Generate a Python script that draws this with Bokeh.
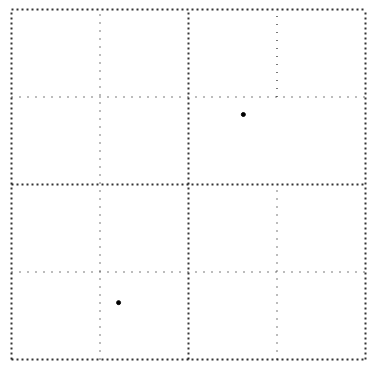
from bokeh.plotting import figure
from bokeh.models import Range1d
from bokeh.embed import file_html
from bokeh.resources import INLINE

# Major grid segments (outer box and centre cross), in grid units
major_x0 = [0, 0, 0, 4, 2, 0]
major_y0 = [0, 4, 0, 0, 0, 2]
major_x1 = [4, 4, 0, 4, 2, 4]
major_y1 = [0, 4, 4, 4, 4, 2]

# Minor subdivision segments
minor_x0 = [1, 0, 0, 3, 3]
minor_y0 = [0, 3, 1, 0, 3]
minor_x1 = [1, 4, 4, 3, 3]
minor_y1 = [4, 3, 1, 2, 4]

# Isolated specks
speck_x = [2.62, 1.21]
speck_y = [2.80, 0.65]

p = figure(width=367, height=365, output_backend="svg", toolbar_location=None,
           x_range=Range1d(-0.1243, 4.0226), y_range=Range1d(-0.0686, 4.103),
           min_border=0, outline_line_color=None, background_fill_color="white")
p.axis.visible = False
p.grid.visible = False

p.segment(major_x0, major_y0, major_x1, major_y1, line_color="black",
          line_width=2, line_dash="2 3", line_alpha=0.8)
p.segment(minor_x0, minor_y0, minor_x1, minor_y1, line_color="black",
          line_width=1.5, line_dash="1 7", line_alpha=0.7)
p.scatter(speck_x, speck_y, size=4, color="black")

open("out.html", "w").write(file_html(p, INLINE))
